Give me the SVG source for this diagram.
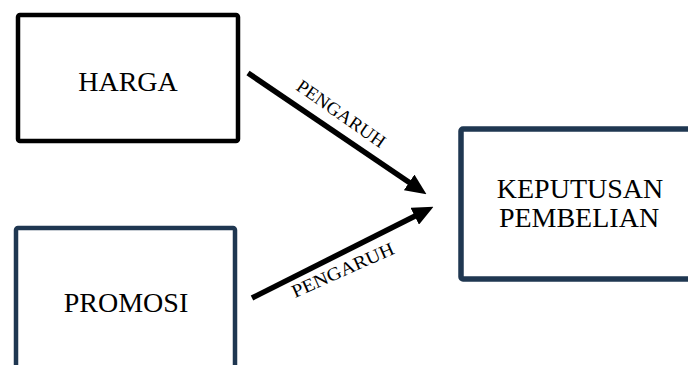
<svg xmlns="http://www.w3.org/2000/svg" width="688" height="365" viewBox="0 0 688 365">
  <style>
    .lbl { font-family: "Liberation Serif", "Times New Roman", serif; font-size: 28px; fill: #000; text-anchor: middle; }
    .edge { font-family: "Liberation Serif", "Times New Roman", serif; font-size: 18.5px; fill: #000; }
    .box { fill: #fff; }
    .conn { stroke: #000; stroke-width: 5.5; fill: none; }
  </style>
  <defs>
    <marker id="arrow" viewBox="0 0 20 18" refX="10" refY="9" markerUnits="userSpaceOnUse" markerWidth="21" markerHeight="19" orient="auto">
      <path d="M0,0 L20,9 L0,18 z" fill="#000"/>
    </marker>
  </defs>
  <rect width="688" height="365" fill="#fff"/>

  <g id="harga">
    <rect class="box" x="18" y="15" width="220" height="126" rx="2" stroke="#000" stroke-width="4.5"/>
    <text class="lbl" x="128" y="91">HARGA</text>
  </g>

  <g id="promosi">
    <rect class="box" x="16" y="228" width="219" height="160" rx="2" stroke="#1f3751" stroke-width="4.5"/>
    <text class="lbl" x="126" y="312">PROMOSI</text>
  </g>

  <g id="keputusan">
    <rect class="box" x="461" y="129" width="260" height="150" rx="2" stroke="#1f3751" stroke-width="5.5"/>
    <text class="lbl" x="580" y="198">KEPUTUSAN</text>
    <text class="lbl" x="579" y="227">PEMBELIAN</text>
  </g>

  <g id="connectors">
    <line class="conn" x1="248" y1="73" x2="417.8" y2="188.3" marker-end="url(#arrow)"/>
    <line class="conn" x1="252" y1="298" x2="424.1" y2="211.5" marker-end="url(#arrow)"/>
    <text class="edge" transform="translate(295,89) rotate(35)" textLength="104" lengthAdjust="spacingAndGlyphs">PENGARUH</text>
    <text class="edge" transform="translate(295,298) rotate(-24)" textLength="110" lengthAdjust="spacingAndGlyphs">PENGARUH</text>
  </g>
</svg>
